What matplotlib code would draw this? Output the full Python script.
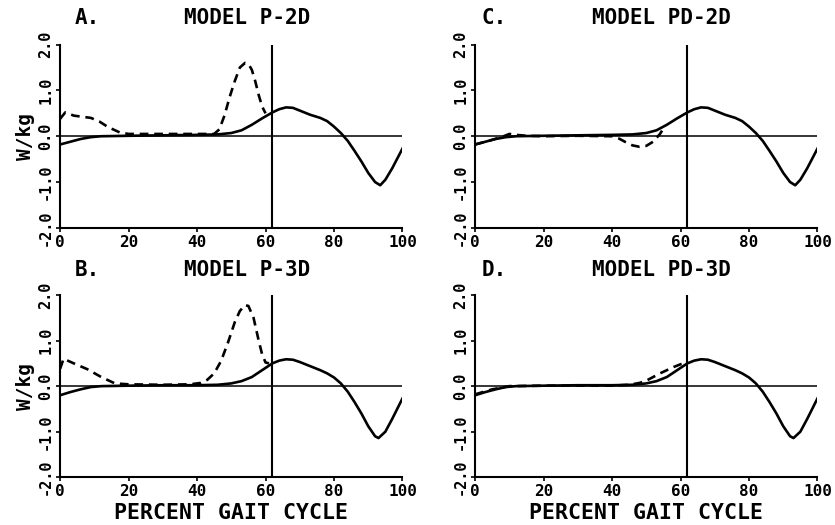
"""
Joint power (W/kg) over the gait cycle for four model variants.
Solid = reference curve, dashed = model curve.
"""

import matplotlib
matplotlib.use("Agg")
import matplotlib.pyplot as plt


# panel labels and titles
panel_letters = ["A.", "B.", "C.", "D."]
panel_titles = ["MODEL P-2D", "MODEL P-3D", "MODEL PD-2D", "MODEL PD-3D"]

x_ticks = [0, 20, 40, 60, 80, 100]
y_ticks = [-2.0, -1.0, 0.0, 1.0, 2.0]
y_tick_labels = ["-2.0", "-1.0", "0.0", "1.0", "2.0"]

# toe-off marker (percent gait cycle)
toe_off = 62

# solid curve, 2D panels (A, C)
solid_2d_x = [0, 3, 6, 9, 12, 20, 30, 40, 46, 50, 53, 56, 59, 62, 64, 66, 68, 70,
              73, 76, 78, 80, 82, 84, 86, 88, 90, 92, 93.5, 95, 97, 100]
solid_2d_y = [-0.18, -0.12, -0.06, -0.02, 0.0, 0.01, 0.02, 0.03, 0.04, 0.07, 0.13,
              0.25, 0.39, 0.52, 0.59, 0.63, 0.62, 0.56, 0.47, 0.40, 0.33, 0.21, 0.07,
              -0.10, -0.32, -0.55, -0.80, -1.00, -1.07, -0.95, -0.70, -0.27]

# solid curve, 3D panels (B, D)
solid_3d_x = [0, 3, 6, 9, 12, 20, 30, 40, 46, 50, 53, 56, 59, 62, 64, 66, 68, 70,
              73, 76, 78, 80, 82, 84, 86, 88, 90, 92, 93, 95, 97, 100]
solid_3d_y = [-0.20, -0.13, -0.07, -0.02, 0.0, 0.01, 0.02, 0.02, 0.03, 0.06, 0.11,
              0.20, 0.35, 0.50, 0.56, 0.59, 0.58, 0.53, 0.44, 0.35, 0.28, 0.19, 0.06,
              -0.12, -0.35, -0.60, -0.88, -1.10, -1.14, -1.00, -0.72, -0.27]

# dashed curves (model), one per panel
dash_a_x = [0, 1.5, 4, 7, 9, 11.5, 14, 17.5, 20, 30, 40, 45, 46.5, 48, 49.5, 51,
            52.5, 54, 55, 56, 57, 58, 59, 60]
dash_a_y = [0.38, 0.52, 0.45, 0.42, 0.40, 0.32, 0.20, 0.08, 0.05, 0.05, 0.05, 0.05,
            0.15, 0.45, 0.85, 1.20, 1.50, 1.60, 1.58, 1.45, 1.20, 0.90, 0.65, 0.50]

dash_b_x = [0, 1, 4, 8, 12, 16, 20, 30, 38, 41, 43, 45, 47, 49, 51, 52.5, 54, 55,
            56.5, 58, 59, 60, 61]
dash_b_y = [0.38, 0.60, 0.50, 0.37, 0.20, 0.06, 0.04, 0.03, 0.04, 0.07, 0.14, 0.28,
            0.55, 0.95, 1.40, 1.65, 1.78, 1.76, 1.50, 1.00, 0.70, 0.52, 0.50]

dash_c_x = [0, 4, 8, 10, 12, 15, 20, 30, 40, 42, 44, 46, 48, 50, 52, 54, 55]
dash_c_y = [-0.18, -0.10, -0.01, 0.05, 0.03, 0.01, 0.0, 0.01, 0.0, -0.05, -0.13,
            -0.20, -0.23, -0.21, -0.12, 0.05, 0.17]

dash_d_x = [0, 5, 10, 20, 30, 40, 45, 48, 50, 52, 54, 56, 58, 60, 62]
dash_d_y = [-0.18, -0.07, 0.0, 0.01, 0.01, 0.01, 0.03, 0.07, 0.12, 0.20, 0.28,
            0.35, 0.42, 0.48, 0.52]


font = "DejaVu Sans Mono"

fig = plt.figure(figsize=(8.35, 5.25), dpi=100)

# axes rectangles: A, B (left column), C, D (right column)
rects = [
    [0.072, 0.566, 0.410, 0.349],
    [0.072, 0.091, 0.410, 0.347],
    [0.569, 0.566, 0.410, 0.349],
    [0.569, 0.091, 0.410, 0.347],
]
solids = [(solid_2d_x, solid_2d_y), (solid_3d_x, solid_3d_y),
          (solid_2d_x, solid_2d_y), (solid_3d_x, solid_3d_y)]
dashes = [(dash_a_x, dash_a_y), (dash_b_x, dash_b_y),
          (dash_c_x, dash_c_y), (dash_d_x, dash_d_y)]
letter_x = [0.08, 0.08, 0.055, 0.057]
title_y = [1.148, 1.135, 1.148, 1.135]

for i in range(4):
    ax = fig.add_axes(rects[i])

    # zero line and toe-off line
    ax.axhline(0, color="black", lw=1.1)
    ax.axvline(toe_off, color="black", lw=1.5)

    ax.plot(solids[i][0], solids[i][1], color="black", lw=1.9,
            solid_joinstyle="round")
    ax.plot(dashes[i][0], dashes[i][1], color="black", lw=1.9,
            linestyle=(0, (3.3, 2.2)))

    ax.set_xlim(0, 100)
    ax.set_ylim(-2, 2)
    ax.spines["top"].set_visible(False)
    ax.spines["right"].set_visible(False)
    ax.spines["left"].set_linewidth(1.5)
    ax.spines["bottom"].set_linewidth(1.5)

    ax.set_xticks(x_ticks)
    ax.set_xticklabels([str(t) for t in x_ticks], family=font,
                       fontweight="bold", fontsize=11.5)
    ax.set_yticks(y_ticks)
    ax.set_yticklabels(y_tick_labels, family=font, fontweight="bold",
                       fontsize=11, rotation=90, va="center")
    ax.tick_params(length=3, width=1.2, pad=2)

    ax.text(letter_x[i], title_y[i], panel_letters[i], transform=ax.transAxes,
            family=font, fontweight="bold", fontsize=15, ha="center",
            va="center")
    ax.text(0.545, title_y[i], panel_titles[i], transform=ax.transAxes,
            family=font, fontweight="bold", fontsize=15, ha="center",
            va="center")

    # y label on left column, x label on bottom row
    if i < 2:
        ax.set_ylabel("W/kg", family=font, fontweight="bold", fontsize=14,
                      labelpad=2)
    if i in (1, 3):
        ax.set_xlabel("PERCENT GAIT CYCLE", family=font, fontweight="bold",
                      fontsize=15.5, labelpad=3)

fig.savefig("out.png", dpi=100)
